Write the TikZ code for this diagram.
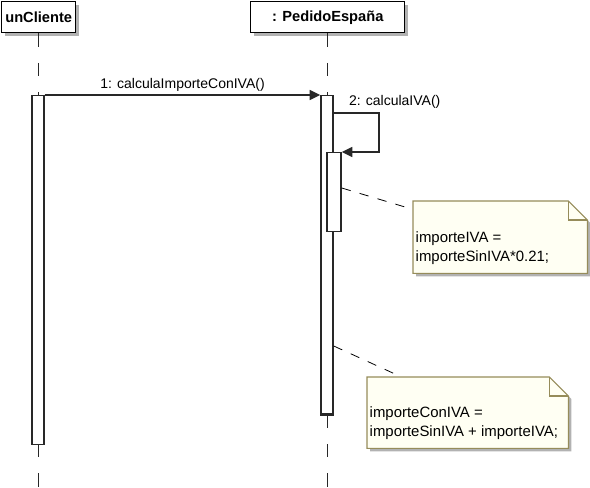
\documentclass[tikz,border=0pt]{standalone}
\usepackage{fontspec}
\setmainfont{Liberation Sans}
\usetikzlibrary{arrows.meta,shadows,calc}

\definecolor{notaborde}{RGB}{150,140,90}
\definecolor{notafondo}{RGB}{255,255,243}
\definecolor{sombra}{RGB}{178,178,178}
\definecolor{linea}{RGB}{40,40,40}

\begin{document}
\begin{tikzpicture}[x=0.75pt, y=-0.75pt, line width=1.1pt,
  font=\fontsize{10.5}{14.25}\selectfont,
  head node/.style={draw=black, fill=white, anchor=north west, inner sep=0pt, minimum height=23.25pt,
    font=\fontsize{11}{13}\selectfont\bfseries,
    drop shadow={shadow xshift=2.25pt, shadow yshift=-2.25pt, fill=sombra, opacity=1}},
  act node/.style={draw=linea, fill=white, anchor=north, inner sep=0pt, minimum width=9pt},
  lifeline/.style={draw=linea, line width=0.9pt, dash pattern=on 10pt off 12pt},
  msg/.style={draw=linea, -{Triangle[length=8pt,width=7.5pt]}},
  note node/.style={anchor=north west, inner sep=0pt},
  note line/.style={draw=notaborde, line width=0.8pt},
  note text/.style={anchor=north west, align=left, inner sep=0pt, font=\fontsize{11.2}{14.25}\selectfont},
  note link/.style={draw=black, line width=0.6pt, dash pattern=on 7pt off 7pt}]
\useasboundingbox (0,0) rectangle (590,488);

% lifeline heads
\node[head node, minimum width=55.5pt] (cliente) at (1,1) {unCliente};
\node[head node, minimum width=115.5pt] (pedido) at (250,1) {: PedidoEspaña};

% lifelines
\draw[lifeline] (cliente.south) -- (cliente.south |- 0,488);
\draw[lifeline] (pedido.south) -- (pedido.south |- 0,488);

% activations
\node[act node, minimum height=261.75pt] (act1) at (38,95) {};
\node[act node, minimum height=238.5pt] (act2) at (327,95) {};
\draw[linea, line width=2.2pt] (act2.south west) -- (act2.south east);
\node[act node, minimum width=10.5pt, minimum height=59.25pt] (act3) at (334,152) {};

% messages
\draw[msg] (act1.north east) -- node[above, inner sep=2pt] {1: calculaImporteConIVA()} (act2.north west);
\coordinate (s1) at (act2.east |- 0,113);
\coordinate (s2) at (379,113);
\coordinate (s3) at (379,152);
\draw[msg] (s1) -- (s2) -- (s3) -- (act3.north east);
\node[anchor=south west, inner sep=1pt] (lbl2) at (347,110) {2: calculaIVA()};

% note 1
\node[note node, minimum width=129.75pt, minimum height=53.25pt] (nota1) at (413,201) {};
\fill[sombra] ($(nota1.north west)+(3,3)$) -- ($(nota1.north east)+(-16,3)$) -- ($(nota1.north east)+(3,22)$)
  -- ($(nota1.south east)+(3,3)$) -- ($(nota1.south west)+(3,3)$) -- cycle;
\draw[note line, fill=notafondo] (nota1.north west) -- ($(nota1.north east)+(-19,0)$) -- ($(nota1.north east)+(0,19)$)
  -- (nota1.south east) -- (nota1.south west) -- cycle;
\draw[note line] ($(nota1.north east)+(-19,0)$) |- ($(nota1.north east)+(0,19)$);
\node[note text] (txt1) at ($(nota1.north west)+(2,30)$) {importeIVA =\\importeSinIVA*0.21;};

% note 2
\node[note node, minimum width=150pt, minimum height=52.5pt] (nota2) at (367,377) {};
\fill[sombra] ($(nota2.north west)+(3,3)$) -- ($(nota2.north east)+(-16,3)$) -- ($(nota2.north east)+(3,22)$)
  -- ($(nota2.south east)+(3,3)$) -- ($(nota2.south west)+(3,3)$) -- cycle;
\draw[note line, fill=notafondo] (nota2.north west) -- ($(nota2.north east)+(-19,0)$) -- ($(nota2.north east)+(0,19)$)
  -- (nota2.south east) -- (nota2.south west) -- cycle;
\draw[note line] ($(nota2.north east)+(-19,0)$) |- ($(nota2.north east)+(0,19)$);
\node[note text] (txt2) at ($(nota2.north west)+(2,29)$) {importeConIVA =\\importeSinIVA + importeIVA;};

% note links
\coordinate (e1) at (405,207);
\coordinate (e2) at (395,374);
\draw[note link] (act3.east |- 0,188) -- (e1);
\draw[note link] (act2.east |- 0,346) -- (e2);
\end{tikzpicture}
\end{document}
